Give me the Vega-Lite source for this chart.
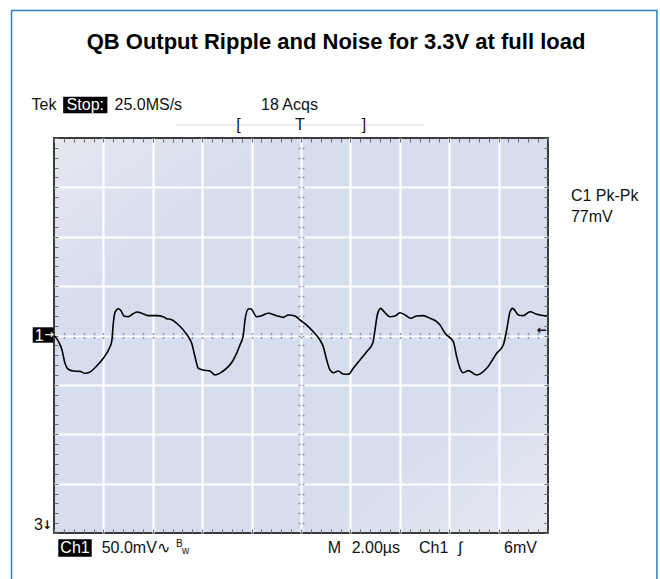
{
  "$schema": "https://vega.github.io/schema/vega-lite/v6.json",
  "width": 494,
  "height": 395,
  "autosize": "none",
  "padding": {"left": 54, "top": 138, "right": 112, "bottom": 46},
  "background": "white",
  "title": {
    "text": "QB Output Ripple and Noise for 3.3V at full load",
    "font": "Liberation Sans",
    "fontSize": 22,
    "fontWeight": "bold",
    "color": "#000000",
    "anchor": "middle",
    "frame": "group",
    "baseline": "bottom",
    "dx": 35,
    "offset": -66
  },
  "view": {
    "stroke": "#3a3a3a",
    "strokeWidth": 2,
    "fill": {
      "gradient": "linear",
      "x1": 0, "y1": 0, "x2": 1, "y2": 1,
      "stops": [
        {"offset": 0, "color": "#e6e7f0"},
        {"offset": 0.25, "color": "#d6ddee"},
        {"offset": 0.75, "color": "#d6ddee"},
        {"offset": 1, "color": "#e6e8f1"}
      ]
    }
  },
  "config": {"font": "Liberation Sans"},
  "resolve": {"axis": {"x": "independent", "y": "independent"}},
  "datasets": {
    "frame": [{"t0": -1.72, "t1": 24.41, "v0": 329.1, "v1": -268}],
    "boxes": [
      {"name": "stop", "t0": 0.372, "t1": 2.162, "v0": 241.8, "v1": 225.0},
      {"name": "ch1marker", "t0": -0.862, "t1": -0.028, "v0": 8.3, "v1": -7.3},
      {"name": "ch1", "t0": 0.174, "t1": 1.526, "v0": -206.4, "v1": -224.0}
    ],
    "bar": [{"t0": 4.97, "t1": 14.98, "v": 213.2}],
    "labels": [
      {"kind": "main", "text": "Tek", "t": -0.907, "v": 233.4},
      {"kind": "main", "text": "25.0MS/s", "t": 2.449, "v": 233.4},
      {"kind": "main", "text": "18 Acqs", "t": 8.381, "v": 233.4},
      {"kind": "main", "text": "C1 Pk-Pk", "t": 20.93, "v": 141.3},
      {"kind": "main", "text": "77mV", "t": 20.93, "v": 120.0},
      {"kind": "main", "text": "3", "t": -0.81, "v": -191.9},
      {"kind": "main", "text": "50.0mV∿", "t": 1.931, "v": -215.2},
      {"kind": "main", "text": "M", "t": 11.08, "v": -215.2},
      {"kind": "main", "text": "2.00µs", "t": 12.05, "v": -215.2},
      {"kind": "main", "text": "Ch1", "t": 14.78, "v": -215.2},
      {"kind": "main", "text": "6mV", "t": 18.22, "v": -215.2},
      {"kind": "center", "text": "[", "t": 7.465, "v": 212.7},
      {"kind": "center", "text": "T", "t": 9.96, "v": 212.7},
      {"kind": "center", "text": "]", "t": 12.55, "v": 212.7},
      {"kind": "center", "text": "∫", "t": 16.44, "v": -215.2},
      {"kind": "inverse", "text": "Stop:", "t": 1.267, "v": 233.4},
      {"kind": "inverse", "text": "1", "t": -0.6, "v": 0},
      {"kind": "inverse", "text": "Ch1", "t": 0.85, "v": -215.2},
      {"kind": "inverseArrow", "text": "→", "t": -0.2, "v": 0.5},
      {"kind": "arrow", "text": "←", "t": 19.76, "v": 6},
      {"kind": "arrow", "text": "↓", "t": -0.28, "v": -191.9},
      {"kind": "small", "text": "B", "t": 5.07, "v": -211.1},
      {"kind": "small", "text": "w", "t": 5.33, "v": -218}
    ],
    "trace": [
      {"t": 0, "v": 0}, {"t": 0.174, "v": -5.6}, {"t": 0.324, "v": -14.7}, {"t": 0.445, "v": -28.2},
      {"t": 0.579, "v": -34.2}, {"t": 0.781, "v": -36.0}, {"t": 1.053, "v": -36.3}, {"t": 1.255, "v": -38.3},
      {"t": 1.457, "v": -37.0}, {"t": 1.729, "v": -30.9}, {"t": 1.996, "v": -23.1}, {"t": 2.267, "v": -11.3},
      {"t": 2.336, "v": -6.3}, {"t": 2.401, "v": 12.4}, {"t": 2.47, "v": 23.5}, {"t": 2.603, "v": 27.1},
      {"t": 2.713, "v": 25.1}, {"t": 2.834, "v": 19.7}, {"t": 3.008, "v": 19.0}, {"t": 3.186, "v": 21.8},
      {"t": 3.372, "v": 23.8}, {"t": 3.551, "v": 22.5}, {"t": 3.818, "v": 20.1}, {"t": 4.158, "v": 20.1},
      {"t": 4.425, "v": 19.0}, {"t": 4.563, "v": 17.0}, {"t": 4.725, "v": 16.4}, {"t": 4.968, "v": 12.4},
      {"t": 5.235, "v": 5.6}, {"t": 5.437, "v": -1.2}, {"t": 5.575, "v": -7.9}, {"t": 5.709, "v": -21.5},
      {"t": 5.842, "v": -33.2}, {"t": 6.045, "v": -34.9}, {"t": 6.316, "v": -36.0}, {"t": 6.518, "v": -40.0},
      {"t": 6.789, "v": -37.0}, {"t": 7.259, "v": -24.8}, {"t": 7.53, "v": -9.6}, {"t": 7.664, "v": 0.5},
      {"t": 7.733, "v": 15.7}, {"t": 7.866, "v": 26.8}, {"t": 7.964, "v": 27.1}, {"t": 8.206, "v": 19.0},
      {"t": 8.409, "v": 20.1}, {"t": 8.676, "v": 22.5}, {"t": 9.016, "v": 20.1}, {"t": 9.283, "v": 18.4},
      {"t": 9.486, "v": 20.8}, {"t": 9.757, "v": 19.7}, {"t": 9.96, "v": 15.7}, {"t": 10.231, "v": 10.6},
      {"t": 10.498, "v": 3.8}, {"t": 10.769, "v": -4.6}, {"t": 10.903, "v": -11.3}, {"t": 11.04, "v": -24.8},
      {"t": 11.174, "v": -34.9}, {"t": 11.308, "v": -37.7}, {"t": 11.51, "v": -36.0}, {"t": 11.713, "v": -39.0},
      {"t": 11.915, "v": -39.3}, {"t": 12.117, "v": -33.2}, {"t": 12.389, "v": -24.8}, {"t": 12.66, "v": -16.4},
      {"t": 12.903, "v": -7.9}, {"t": 12.996, "v": 5.6}, {"t": 13.089, "v": 20.8}, {"t": 13.227, "v": 27.5},
      {"t": 13.36, "v": 24.1}, {"t": 13.603, "v": 19.0}, {"t": 13.806, "v": 19.7}, {"t": 14.008, "v": 23.1},
      {"t": 14.211, "v": 20.8}, {"t": 14.441, "v": 17.4}, {"t": 14.684, "v": 19.7}, {"t": 14.951, "v": 20.1},
      {"t": 15.223, "v": 17.4}, {"t": 15.494, "v": 14.0}, {"t": 15.628, "v": 10.6}, {"t": 15.83, "v": 2.2},
      {"t": 16.166, "v": -6.3}, {"t": 16.304, "v": -21.5}, {"t": 16.437, "v": -33.2}, {"t": 16.571, "v": -37.7},
      {"t": 16.773, "v": -35.6}, {"t": 17.113, "v": -40.0}, {"t": 17.518, "v": -33.2}, {"t": 17.923, "v": -18.0},
      {"t": 18.19, "v": -9.6}, {"t": 18.328, "v": 5.6}, {"t": 18.462, "v": 24.1}, {"t": 18.571, "v": 27.5},
      {"t": 18.798, "v": 20.8}, {"t": 19.0, "v": 20.1}, {"t": 19.271, "v": 24.1}, {"t": 19.543, "v": 21.5},
      {"t": 19.96, "v": 19.7}
    ]
  },
  "layer": [
    {
      "data": {"name": "frame"},
      "mark": {"type": "rect", "fillOpacity": 0, "stroke": "#2a7ec4", "strokeWidth": 1.5},
      "encoding": {
        "x": {"field": "t0", "type": "quantitative", "scale": {"domain": [0, 20], "nice": false, "zero": false}, "axis": null},
        "x2": {"field": "t1"},
        "y": {"field": "v0", "type": "quantitative", "scale": {"domain": [-200, 200], "nice": false, "zero": false}, "axis": null},
        "y2": {"field": "v1"}
      }
    },
    {
      "data": {"name": "trace"},
      "mark": {"type": "line", "color": "#000000", "strokeWidth": 1.6, "interpolate": "monotone"},
      "encoding": {
        "x": {"field": "t", "type": "quantitative", "scale": {"domain": [0, 20], "nice": false, "zero": false},
          "axis": {"orient": "bottom", "values": [2, 4, 6, 8, 10, 12, 14, 16, 18], "grid": true, "gridColor": "#ffffff", "gridWidth": 2.2, "gridOpacity": 1, "ticks": false, "labels": false, "domain": false, "title": null}},
        "y": {"field": "v", "type": "quantitative", "scale": {"domain": [-200, 200], "nice": false, "zero": false},
          "axis": {"orient": "left", "values": [-150, -100, -50, 0, 50, 100, 150], "grid": true, "gridColor": "#ffffff", "gridWidth": 2.2, "gridOpacity": 1, "ticks": false, "labels": false, "domain": false, "title": null}}
      }
    },
    {
      "data": {"name": "labels"},
      "transform": [{"filter": "datum.kind === 'main'"}],
      "mark": {"type": "text", "align": "left", "baseline": "middle", "fontSize": 16, "color": "#111111"},
      "encoding": {
        "x": {"field": "t", "type": "quantitative", "scale": {"domain": [0, 20], "nice": false, "zero": false},
          "axis": {"orient": "bottom", "values": [0, 0.4, 0.8, 1.2, 1.6, 2, 2.4, 2.8, 3.2, 3.6, 4, 4.4, 4.8, 5.2, 5.6, 6, 6.4, 6.8, 7.2, 7.6, 8, 8.4, 8.8, 9.2, 9.6, 10, 10.4, 10.8, 11.2, 11.6, 12, 12.4, 12.8, 13.2, 13.6, 14, 14.4, 14.8, 15.2, 15.6, 16, 16.4, 16.8, 17.2, 17.6, 18, 18.4, 18.8, 19.2, 19.6, 20], "ticks": true, "tickSize": -4, "tickColor": "#6b6b6b", "tickWidth": 1, "grid": false, "labels": false, "domain": false, "title": null}},
        "y": {"field": "v", "type": "quantitative", "scale": {"domain": [-200, 200], "nice": false, "zero": false},
          "axis": {"orient": "left", "values": [-200, -190, -180, -170, -160, -150, -140, -130, -120, -110, -100, -90, -80, -70, -60, -50, -40, -30, -20, -10, 0, 10, 20, 30, 40, 50, 60, 70, 80, 90, 100, 110, 120, 130, 140, 150, 160, 170, 180, 190, 200], "ticks": true, "tickSize": -4, "tickColor": "#6b6b6b", "tickWidth": 1, "grid": false, "labels": false, "domain": false, "title": null}},
        "text": {"field": "text"}
      }
    },
    {
      "data": {"name": "boxes"},
      "mark": {"type": "rect", "color": "#000000"},
      "encoding": {
        "x": {"field": "t0", "type": "quantitative", "scale": {"domain": [0, 20], "nice": false, "zero": false},
          "axis": {"orient": "top", "values": [0, 0.4, 0.8, 1.2, 1.6, 2, 2.4, 2.8, 3.2, 3.6, 4, 4.4, 4.8, 5.2, 5.6, 6, 6.4, 6.8, 7.2, 7.6, 8, 8.4, 8.8, 9.2, 9.6, 10, 10.4, 10.8, 11.2, 11.6, 12, 12.4, 12.8, 13.2, 13.6, 14, 14.4, 14.8, 15.2, 15.6, 16, 16.4, 16.8, 17.2, 17.6, 18, 18.4, 18.8, 19.2, 19.6, 20], "ticks": true, "tickSize": -4, "tickColor": "#6b6b6b", "tickWidth": 1, "grid": false, "labels": false, "domain": false, "title": null}},
        "x2": {"field": "t1"},
        "y": {"field": "v0", "type": "quantitative", "scale": {"domain": [-200, 200], "nice": false, "zero": false},
          "axis": {"orient": "right", "values": [-200, -190, -180, -170, -160, -150, -140, -130, -120, -110, -100, -90, -80, -70, -60, -50, -40, -30, -20, -10, 0, 10, 20, 30, 40, 50, 60, 70, 80, 90, 100, 110, 120, 130, 140, 150, 160, 170, 180, 190, 200], "ticks": true, "tickSize": -4, "tickColor": "#6b6b6b", "tickWidth": 1, "grid": false, "labels": false, "domain": false, "title": null}},
        "y2": {"field": "v1"}
      }
    },
    {
      "data": {"name": "labels"},
      "transform": [{"filter": "datum.kind === 'inverse'"}],
      "mark": {"type": "text", "align": "center", "baseline": "middle", "fontSize": 16, "color": "#ffffff"},
      "encoding": {
        "x": {"field": "t", "type": "quantitative", "scale": {"domain": [0, 20], "nice": false, "zero": false},
          "axis": {"orient": "bottom", "offset": -200.5, "values": [0.4, 0.8, 1.2, 1.6, 2, 2.4, 2.8, 3.2, 3.6, 4, 4.4, 4.8, 5.2, 5.6, 6, 6.4, 6.8, 7.2, 7.6, 8, 8.4, 8.8, 9.2, 9.6, 10, 10.4, 10.8, 11.2, 11.6, 12, 12.4, 12.8, 13.2, 13.6, 14, 14.4, 14.8, 15.2, 15.6, 16, 16.4, 16.8, 17.2, 17.6, 18, 18.4, 18.8, 19.2, 19.6], "ticks": true, "tickSize": 6, "tickColor": "#8e95a8", "tickWidth": 1.5, "tickDash": [2, 2], "grid": false, "labels": false, "domain": false, "title": null}},
        "y": {"field": "v", "type": "quantitative", "scale": {"domain": [-200, 200], "nice": false, "zero": false},
          "axis": {"orient": "left", "offset": -250, "values": [-190, -180, -170, -160, -150, -140, -130, -120, -110, -100, -90, -80, -70, -60, -50, -40, -30, -20, -10, 0, 10, 20, 30, 40, 50, 60, 70, 80, 90, 100, 110, 120, 130, 140, 150, 160, 170, 180, 190], "ticks": true, "tickSize": 6, "tickColor": "#8e95a8", "tickWidth": 1.5, "tickDash": [2, 2], "grid": false, "labels": false, "domain": false, "title": null}},
        "text": {"field": "text"}
      }
    },
    {
      "data": {"name": "labels"},
      "transform": [{"filter": "datum.kind === 'center'"}],
      "mark": {"type": "text", "align": "center", "baseline": "middle", "fontSize": 16, "color": "#111111"},
      "encoding": {
        "x": {"field": "t", "type": "quantitative", "scale": {"domain": [0, 20], "nice": false, "zero": false}, "axis": null},
        "y": {"field": "v", "type": "quantitative", "scale": {"domain": [-200, 200], "nice": false, "zero": false}, "axis": null},
        "text": {"field": "text"}
      }
    },
    {
      "data": {"name": "labels"},
      "transform": [{"filter": "datum.kind === 'small'"}],
      "mark": {"type": "text", "align": "center", "baseline": "middle", "fontSize": 10, "color": "#111111"},
      "encoding": {
        "x": {"field": "t", "type": "quantitative", "scale": {"domain": [0, 20], "nice": false, "zero": false}, "axis": null},
        "y": {"field": "v", "type": "quantitative", "scale": {"domain": [-200, 200], "nice": false, "zero": false}, "axis": null},
        "text": {"field": "text"}
      }
    },
    {
      "data": {"name": "labels"},
      "transform": [{"filter": "datum.kind === 'arrow'"}],
      "mark": {"type": "text", "align": "center", "baseline": "middle", "font": "DejaVu Sans", "fontSize": 12, "fontWeight": "bold", "color": "#111111"},
      "encoding": {
        "x": {"field": "t", "type": "quantitative", "scale": {"domain": [0, 20], "nice": false, "zero": false}, "axis": null},
        "y": {"field": "v", "type": "quantitative", "scale": {"domain": [-200, 200], "nice": false, "zero": false}, "axis": null},
        "text": {"field": "text"}
      }
    },
    {
      "data": {"name": "labels"},
      "transform": [{"filter": "datum.kind === 'inverseArrow'"}],
      "mark": {"type": "text", "align": "center", "baseline": "middle", "font": "DejaVu Sans", "fontSize": 11, "fontWeight": "bold", "color": "#ffffff"},
      "encoding": {
        "x": {"field": "t", "type": "quantitative", "scale": {"domain": [0, 20], "nice": false, "zero": false}, "axis": null},
        "y": {"field": "v", "type": "quantitative", "scale": {"domain": [-200, 200], "nice": false, "zero": false}, "axis": null},
        "text": {"field": "text"}
      }
    },
    {
      "data": {"name": "bar"},
      "mark": {"type": "rule", "color": "#b5b5b5", "strokeWidth": 1, "strokeDash": [1, 1]},
      "encoding": {
        "x": {"field": "t0", "type": "quantitative", "scale": {"domain": [0, 20], "nice": false, "zero": false}, "axis": null},
        "x2": {"field": "t1"},
        "y": {"field": "v", "type": "quantitative", "scale": {"domain": [-200, 200], "nice": false, "zero": false}, "axis": null}
      }
    }
  ]
}
